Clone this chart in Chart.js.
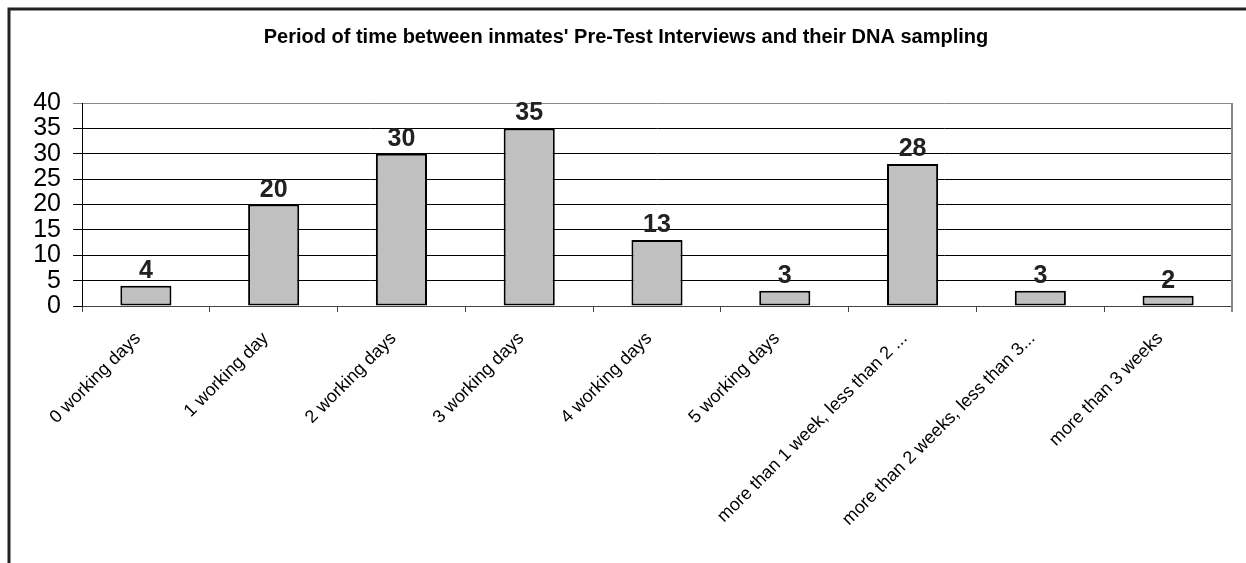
<!DOCTYPE html>
<html>
<head>
<meta charset="utf-8">
<script src="https://cdn.jsdelivr.net/npm/chart.js@4"></script>
<style>
  html, body { margin: 0; padding: 0; background: #fff; }
  #wrap { width: 1246px; height: 563px; position: relative; }
</style>
</head>
<body>
<div id="wrap"><canvas id="timeChart"></canvas></div>
<script>
var categories = ["0 working days", "1 working day", "2 working days", "3 working days",
    "4 working days", "5 working days", "more than 1 week, less than 2 ...",
    "more than 2 weeks, less than 3...", "more than 3 weeks"];
var inmateCounts = [4, 20, 30, 35, 13, 3, 28, 3, 2];
var yTicks = [0, 5, 10, 15, 20, 25, 30, 35, 40];

var fontFamily = "'Liberation Sans', Arial, sans-serif";

// outer frame + right plot border
var framePlugin = {
    id: "frame",
    beforeDraw: function(chart) {
        var ctx = chart.ctx;
        ctx.save();
        ctx.fillStyle = "#fff";
        ctx.fillRect(0, 0, chart.width, chart.height);
        ctx.strokeStyle = "#222";
        ctx.lineWidth = 3;
        ctx.beginPath();
        ctx.moveTo(9, chart.height);
        ctx.lineTo(9, 9);
        ctx.lineTo(chart.width, 9);
        ctx.stroke();
        ctx.restore();
    },
    afterDraw: function(chart) {
        var a = chart.chartArea;
        var ctx = chart.ctx;
        ctx.save();
        ctx.strokeStyle = "#888";
        ctx.lineWidth = 2;
        ctx.beginPath();
        ctx.moveTo(a.right, a.top);
        ctx.lineTo(a.right, a.bottom + 6);
        ctx.stroke();
        ctx.restore();
    }
};

// value labels above bars
var valueLabels = {
    id: "valueLabels",
    afterDatasetsDraw: function(chart) {
        var ctx = chart.ctx;
        var meta = chart.getDatasetMeta(0);
        ctx.save();
        ctx.font = "bold 25px " + fontFamily;
        ctx.fillStyle = "#222";
        ctx.textAlign = "center";
        ctx.textBaseline = "alphabetic";
        meta.data.forEach(function(bar, i) {
            ctx.fillText(inmateCounts[i], bar.x, bar.y - 8);
        });
        ctx.restore();
    }
};

new Chart("timeChart", {
    type: "bar",
    data: {
        labels: categories,
        datasets: [{
            data: inmateCounts,
            backgroundColor: "#c0c0c0",
            borderColor: "#000",
            borderWidth: 2,
            borderSkipped: false,
            categoryPercentage: 1,
            barPercentage: 0.4
        }]
    },
    options: {
        responsive: true,
        maintainAspectRatio: false,
        animation: false,
        layout: { padding: { left: 20, right: 14, top: 0, bottom: 0 } },
        plugins: {
            legend: { display: false },
            tooltip: { enabled: false },
            title: {
                display: true,
                text: "Period of time between inmates' Pre-Test Interviews and their DNA sampling",
                color: "#000",
                font: { family: fontFamily, size: 20, weight: "bold" },
                padding: { top: 25, bottom: 54 }
            }
        },
        scales: {
            x: {
                grid: {
                    drawOnChartArea: false,
                    drawTicks: true,
                    tickLength: 6,
                    color: "#444"
                },
                border: { color: "#444", width: 1 },
                ticks: {
                    color: "#000",
                    maxRotation: 45,
                    minRotation: 45,
                    autoSkip: false,
                    padding: 16,
                    labelOffset: -8,
                    font: { family: fontFamily, size: 18 }
                },
                afterFit: function(scale) { scale.height = 257; }
            },
            y: {
                min: 0,
                max: 40,
                afterBuildTicks: function(scale) {
                    scale.ticks = yTicks.map(function(v) { return { value: v }; });
                },
                grid: {
                    color: function(c) { return c.tick && c.tick.value === 40 ? "#888" : "#000"; },
                    tickLength: 9,
                    lineWidth: 1
                },
                border: { color: "#000", width: 1 },
                ticks: {
                    color: "#000",
                    padding: 12,
                    autoSkip: false,
                    font: { family: fontFamily, size: 25, lineHeight: 1 }
                },
                afterFit: function(scale) { scale.width = 62; }
            }
        }
    },
    plugins: [framePlugin, valueLabels]
});
</script>
</body>
</html>
